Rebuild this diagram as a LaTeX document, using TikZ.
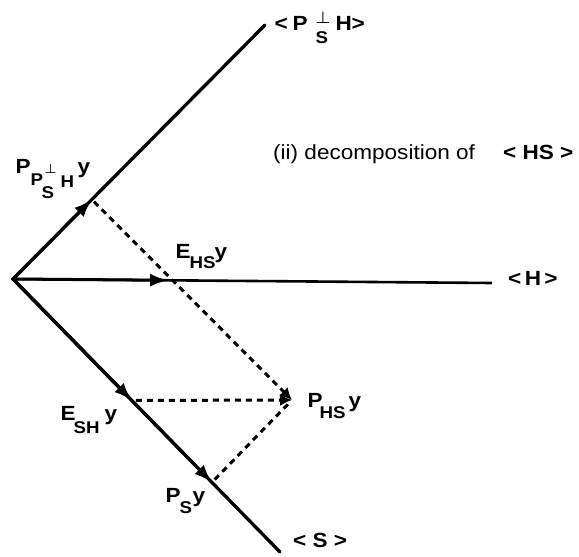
\documentclass[tikz,border=0pt]{standalone}
\usepackage{fontspec}
\usepackage{graphicx}
\setmainfont{Liberation Sans}[FakeStretch=1.1]
\usetikzlibrary{arrows.meta,calc}
\newcommand{\pc}[4]{\makebox[0pt][l]{\hspace{#1pt}\raisebox{#2pt}{\fontsize{#3}{#3}\selectfont #4}}}
\newcommand{\bperp}[1]{\scalebox{#1}{\boldmath$\perp$}}
\tikzset{
  axisline/.style={line width=3.3pt, line join=miter, line cap=round},
  hline/.style={line width=2.6pt},
  vecarrow/.style={line width=3pt, -{Latex[length=18pt,width=13pt]}},
  proj/.style={line width=3pt, dash pattern=on 6pt off 5pt},
  projarrow/.style={proj, -{Latex[length=12pt,width=12pt]}},
  lbl/.style={inner sep=0pt, anchor=base west, font=\bfseries\fontsize{20.5}{24}\selectfont},
  plain/.style={inner sep=0pt, anchor=base west, font=\fontsize{20.5}{24}\selectfont}
}
\begin{document}
\begin{tikzpicture}[x=1pt,y=-1pt]
\useasboundingbox (0,0) rectangle (579,557);
% axes
\coordinate (O) at (13,279);
\coordinate (U) at (265,25);
\coordinate (Hend) at (492,283);
\coordinate (Send) at (280,552);
\coordinate (Aup) at ($(O)!0.313!(U)$);
\coordinate (EHS) at ($(O)!0.324!(Hend)$);
\coordinate (ESH) at ($(O)!0.445!(Send)$);
\coordinate (PS) at ($(O)!0.745!(Send)$);
\coordinate (PHS) at (292,400);
\draw[axisline] (U) -- (O) -- (Send);
\draw[hline] (O) -- (Hend);
% vectors
\draw[vecarrow] (O) -- (Aup);
\draw[vecarrow] (O) -- (EHS);
\draw[vecarrow] (O) -- (ESH);
\draw[vecarrow] (O) -- (PS);
% projections
\draw[projarrow] ($(Aup)!3pt!(PHS)$) -- (PHS);
\draw[projarrow] ($(ESH)!4pt!(PHS)$) -- (PHS);
\draw[proj] ($(PS)!4pt!(PHS)$) -- ($(PHS)!6pt!(PS)$);
% labels
\node[lbl] (Ltop) at (274,30) {\pc{0}{0}{20.5}{<}\pc{18}{0}{20.5}{P}\pc{41}{-13}{17}{S}\pc{41}{7}{14}{\bperp{1.15}}\pc{61}{0}{20.5}{H}\pc{77}{0}{20.5}{>}\hspace{90pt}};
\node[lbl] (Lperp) at (15,173) {\pc{0}{0}{20.5}{P}\pc{15}{-12}{17}{P}\pc{29}{0}{13}{\bperp{1.1}}\pc{26}{-25}{17}{S}\pc{45}{-14}{17}{H}\pc{62}{0}{20.5}{y}\hspace{75pt}};
\node[lbl] (Lehs) at (175,258) {\pc{0}{0}{20.5}{E}\pc{14}{-10}{17}{HS}\pc{39}{0}{20.5}{y}\hspace{50pt}};
\node[lbl] (Lesh) at (60,420) {\pc{0}{0}{20.5}{E}\pc{13}{-13}{17}{SH}\pc{44}{0}{20.5}{y}\hspace{57pt}};
\node[lbl] (Lphs) at (307,407) {\pc{0}{0}{20.5}{P}\pc{12}{-11}{17}{HS}\pc{41}{0}{20.5}{y}\hspace{53pt}};
\node[lbl] (Lps) at (165,502) {\pc{0}{0}{20.5}{P}\pc{14}{-11}{17}{S}\pc{27}{0}{20.5}{y}\hspace{38pt}};
\node[lbl] (Ls) at (293,547) {< S >};
\node[lbl] (Lh) at (508,285) {<\,H\,>};
\node[plain] (Lcap) at (273,159) {(ii) decomposition of};
\node[lbl] (Lhs) at (503,159) {< HS >};
\end{tikzpicture}
\end{document}
